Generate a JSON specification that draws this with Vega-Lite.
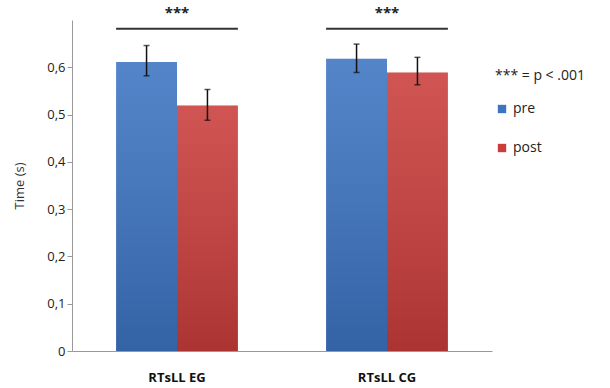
{
  "$schema": "https://vega.github.io/schema/vega-lite/v6.json",
  "width": 420,
  "height": 331,
  "autosize": {"type": "none"},
  "padding": {"left": 72, "top": 20, "right": 118, "bottom": 37},
  "background": "white",
  "config": {
    "view": {"stroke": null},
    "font": "Open Sans"
  },
  "datasets": {
    "bars": [
      {"group": "RTsLL EG", "phase": "pre", "mean": 0.611, "lo": 0.582, "hi": 0.646},
      {"group": "RTsLL EG", "phase": "post", "mean": 0.519, "lo": 0.488, "hi": 0.553},
      {"group": "RTsLL CG", "phase": "pre", "mean": 0.618, "lo": 0.589, "hi": 0.649},
      {"group": "RTsLL CG", "phase": "post", "mean": 0.589, "lo": 0.563, "hi": 0.621}
    ],
    "sig": [
      {"group": "RTsLL EG", "y": 0.6835, "y2": 0.6795, "label": "***"},
      {"group": "RTsLL CG", "y": 0.6835, "y2": 0.6795, "label": "***"}
    ]
  },
  "encoding": {
    "x": {
      "field": "group",
      "type": "nominal",
      "sort": ["RTsLL EG", "RTsLL CG"],
      "scale": {"paddingInner": 0.42, "paddingOuter": 0.21},
      "axis": {
        "title": null,
        "labelAngle": 0,
        "labelFontWeight": "bold",
        "labelFontSize": 13,
        "labelColor": "#111",
        "labelPadding": 20,
        "domainColor": "#999",
        "ticks": false
      }
    }
  },
  "layer": [
    {
      "data": {"name": "bars"},
      "mark": {"type": "bar"},
      "encoding": {
        "xOffset": {"field": "phase", "type": "nominal", "sort": ["pre", "post"], "scale": {"paddingInner": 0, "paddingOuter": 0}},
        "y": {
          "field": "mean",
          "type": "quantitative",
          "scale": {"domain": [0, 0.7], "nice": false},
          "axis": {
            "title": "Time (s)",
            "titleFont": "Open Sans",
            "titleFontWeight": "normal",
            "titleFontSize": 13,
            "titleColor": "#333",
            "titlePadding": 20,
            "values": [0, 0.1, 0.2, 0.3, 0.4, 0.5, 0.6],
            "labelExpr": "datum.value == 0 ? '0' : replace(format(datum.value, '.1f'), '.', ',')",
            "labelFontSize": 13,
            "labelColor": "#222",
            "grid": false,
            "domainColor": "#999",
            "tickColor": "#999",
            "tickSize": 5
          }
        },
        "color": {
          "field": "phase",
          "type": "nominal",
          "sort": ["pre", "post"],
          "scale": {"domain": ["pre", "post"], "range": ["#3c74c2", "#c93d3b"]},
          "legend": {
            "title": "*** = p < .001",
            "titleFontWeight": "normal",
            "titleFontSize": 14,
            "titleColor": "#222",
            "titlePadding": 19,
            "orient": "none",
            "legendX": 423,
            "legendY": 49,
            "symbolType": "square",
            "symbolSize": 70,
            "labelFontSize": 14,
            "labelColor": "#222",
            "rowPadding": 25
          }
        }
      }
    },
    {
      "data": {"name": "bars"},
      "mark": {
        "type": "bar",
        "fill": {
          "gradient": "linear",
          "x1": 0, "y1": 0, "x2": 0, "y2": 1,
          "stops": [
            {"offset": 0, "color": "rgba(255,255,255,0.12)"},
            {"offset": 1, "color": "rgba(0,0,0,0.15)"}
          ]
        }
      },
      "encoding": {
        "xOffset": {"field": "phase", "type": "nominal", "sort": ["pre", "post"]},
        "y": {"field": "mean", "type": "quantitative"}
      }
    },
    {
      "data": {"name": "bars"},
      "mark": {"type": "rule", "color": "#111", "strokeWidth": 1.5},
      "encoding": {
        "xOffset": {"field": "phase", "type": "nominal", "sort": ["pre", "post"]},
        "y": {"field": "lo", "type": "quantitative"},
        "y2": {"field": "hi"}
      }
    },
    {
      "data": {"name": "bars"},
      "mark": {"type": "tick", "color": "#111", "size": 6, "thickness": 1.5},
      "encoding": {
        "xOffset": {"field": "phase", "type": "nominal", "sort": ["pre", "post"]},
        "y": {"field": "lo", "type": "quantitative"}
      }
    },
    {
      "data": {"name": "bars"},
      "mark": {"type": "tick", "color": "#111", "size": 6, "thickness": 1.5},
      "encoding": {
        "xOffset": {"field": "phase", "type": "nominal", "sort": ["pre", "post"]},
        "y": {"field": "hi", "type": "quantitative"}
      }
    },
    {
      "data": {"name": "sig"},
      "mark": {"type": "bar", "color": "#333"},
      "encoding": {
        "y": {"field": "y", "type": "quantitative"},
        "y2": {"field": "y2"}
      }
    },
    {
      "data": {"name": "sig"},
      "mark": {"type": "text", "dy": -15, "fontSize": 15, "fontWeight": "bold", "color": "#222"},
      "encoding": {
        "y": {"field": "y", "type": "quantitative"},
        "text": {"field": "label"}
      }
    }
  ]
}
